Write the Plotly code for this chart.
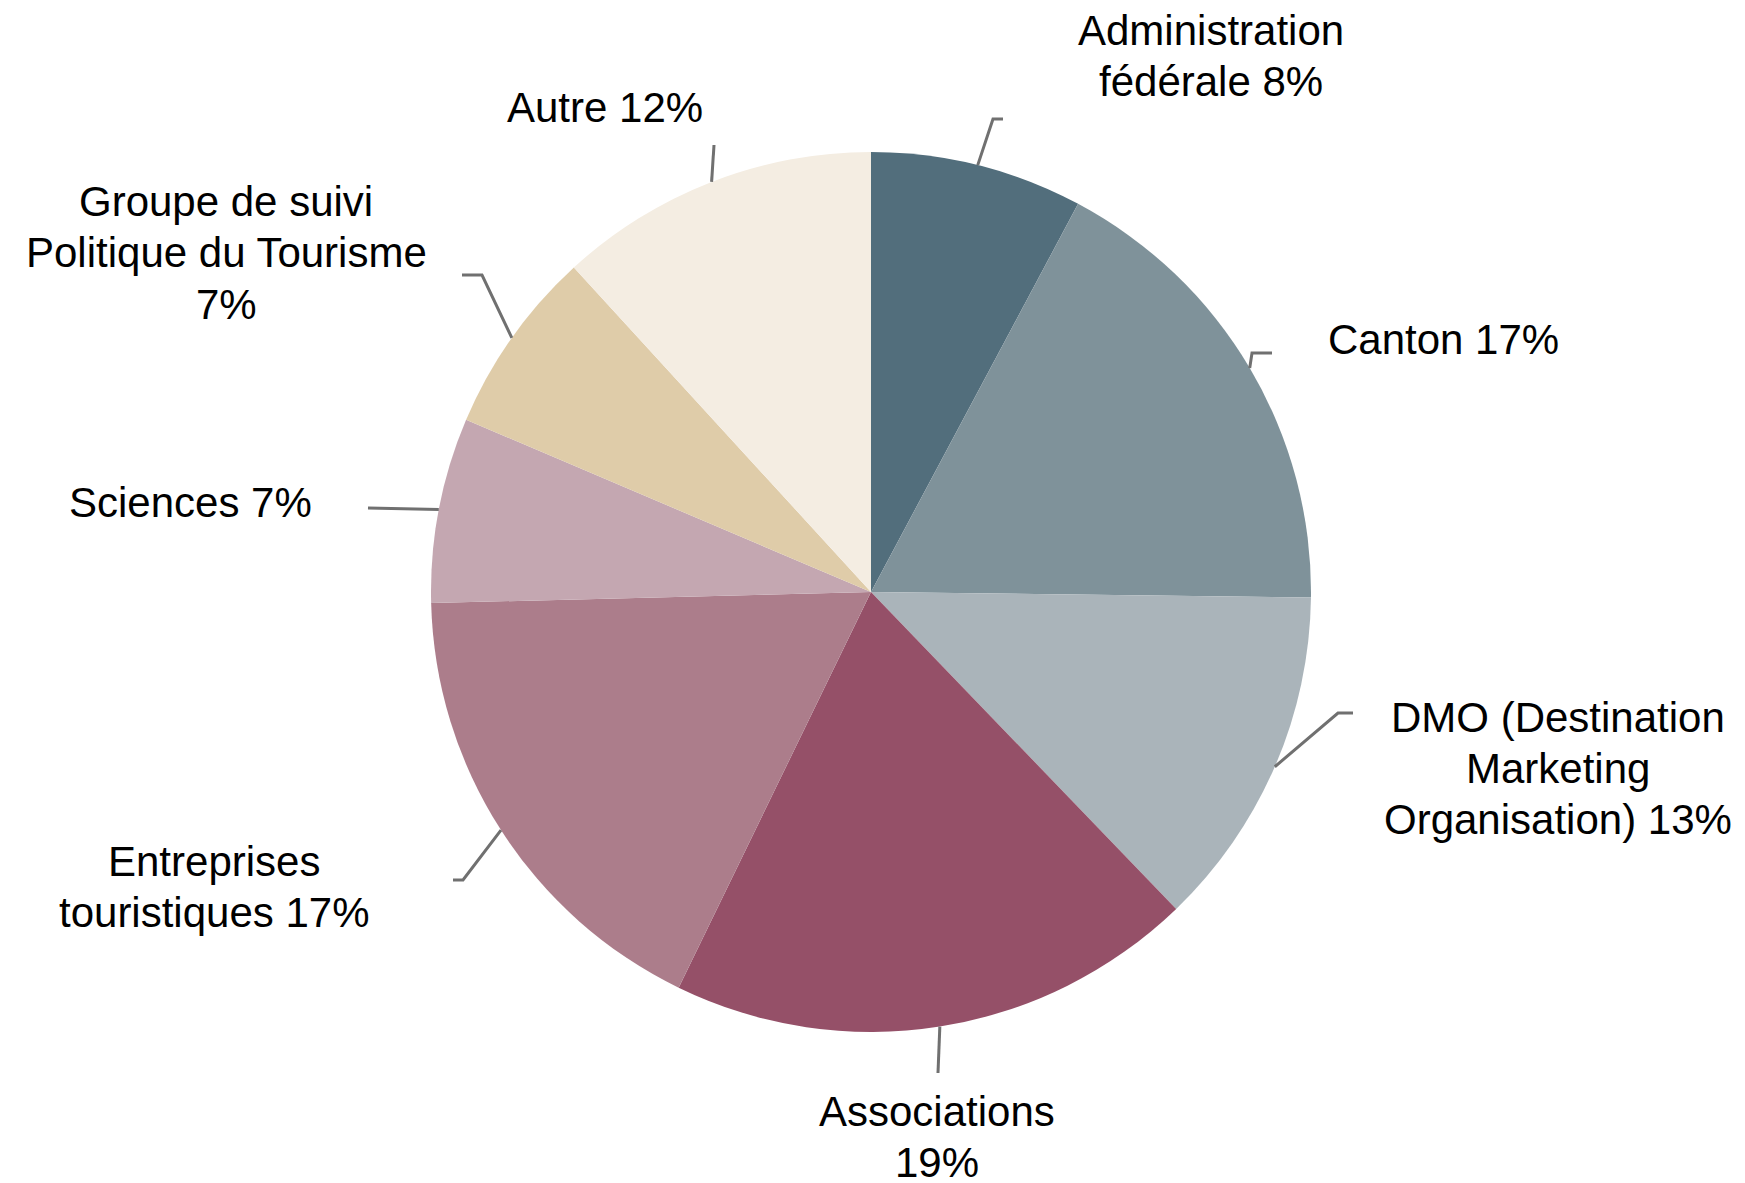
import math
import plotly.graph_objects as go

# ---- data ----
categories = ["Administration fédérale", "Canton", "DMO (Destination Marketing Organisation)",
              "Associations", "Entreprises touristiques", "Sciences",
              "Groupe de suivi Politique du Tourisme", "Autre"]
values = [7.8, 17.4, 12.6, 19.4, 17.4, 6.8, 6.8, 11.8]
label_texts = ["Administration<br>fédérale 8%", "Canton 17%",
               "DMO (Destination<br>Marketing<br>Organisation) 13%",
               "Associations<br>19%", "Entreprises<br>touristiques 17%", "Sciences 7%",
               "Groupe de suivi<br>Politique du Tourisme<br>7%", "Autre 12%"]
colors = ["#526e7c", "#7f929a", "#aab4ba", "#955068", "#ac7d8b", "#c4a7b1", "#dfcca9", "#f4ede2"]

# ---- layout / styling (pixels in the 1745x1183 page) ----
W, H = 1745, 1183
OFF = 8  # default page body margin
CX, CY, R = 871, 592, 440
LINE_H = 51
FONT_SIZE = 42
# label centre (x, y), elbow point (x, y), stub end x
label_layout = [
    ((1211, 56), (993, 119), 1003),
    ((1443, 339), (1252, 353), 1272),
    ((1558, 768), (1338, 713), 1353),
    ((937, 1137), (938, 1073), 938),
    ((214, 887), (463, 880), 453),
    ((190, 503), (368, 508), 368),
    ((226, 253), (482, 275), 462),
    ((605, 108), (714, 145), 714),
]

def px(x):
    return (x - OFF) / W

def py(y):
    return 1 - (y - OFF) / H

fig = go.Figure(go.Pie(
    labels=categories, values=values, sort=False, direction="clockwise", rotation=0,
    marker=dict(colors=colors, line=dict(width=0)),
    textinfo="none", hoverinfo="label+percent", showlegend=False,
    domain=dict(x=[px(CX - R), px(CX + R)], y=[py(CY + R), py(CY - R)]),
))

total = sum(values)
cum = 0
shapes, annotations = [], []
for v, txt, ((lx, ly), (ex, ey), sx) in zip(values, label_texts, label_layout):
    mid = (cum + v / 2) / total * 2 * math.pi
    cum += v
    rx = CX + R * math.sin(mid)
    ry = CY - R * math.cos(mid)
    path = f"M {px(rx)} {py(ry)} L {px(ex)} {py(ey)} L {px(sx)} {py(ey)}"
    shapes.append(dict(type="path", xref="paper", yref="paper", path=path,
                       line=dict(color="#707070", width=3)))
    lines = txt.split("<br>")
    n = len(lines)
    for i, line in enumerate(lines):
        yy = ly + (i - (n - 1) / 2) * LINE_H
        annotations.append(dict(x=px(lx), y=py(yy), xref="paper", yref="paper", text=line,
                                showarrow=False, xanchor="center", yanchor="middle",
                                font=dict(family="Liberation Sans, Arial, sans-serif",
                                          size=FONT_SIZE, color="#000000")))

fig.update_layout(width=W, height=H, margin=dict(l=0, r=0, t=0, b=0),
                  paper_bgcolor="white", plot_bgcolor="white",
                  shapes=shapes, annotations=annotations)
fig.write_html("out.html")
